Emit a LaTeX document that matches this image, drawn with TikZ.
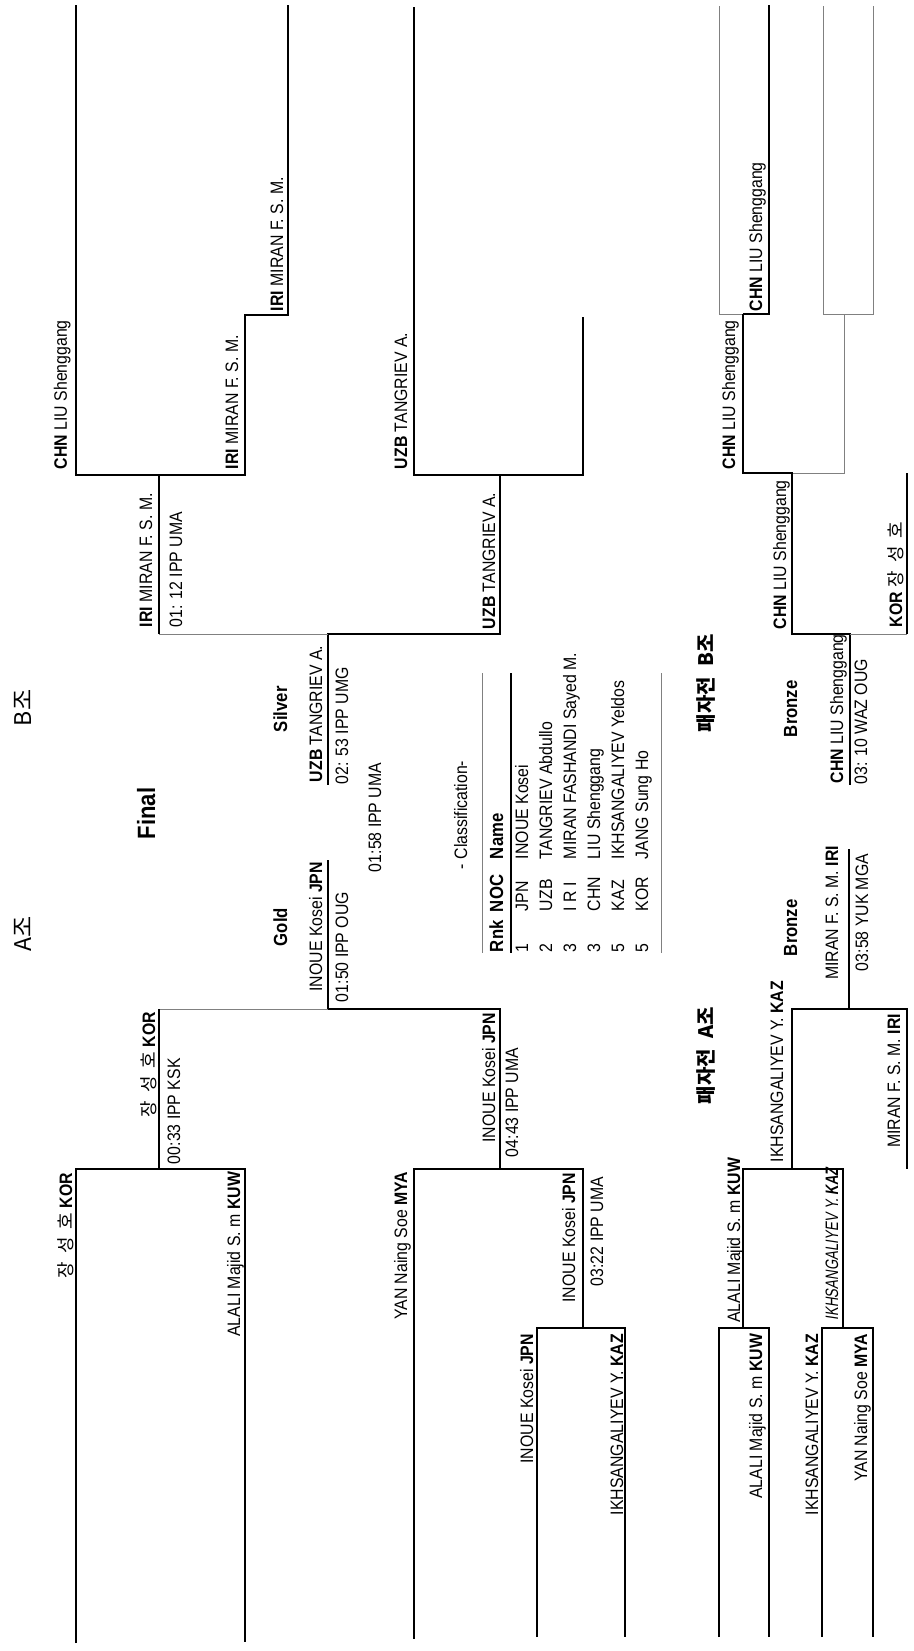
\documentclass[tikz,border=0pt]{standalone}
\usepackage{fontspec}
\setmainfont{Liberation Sans}[FakeStretch=0.88]
\newfontfamily\kr{Noto Sans CJK KR}
\newfontfamily\slnt{Liberation Sans}[FakeStretch=0.74,FakeSlant=0.15]
\newcommand\jang{{\kr 장\hspace{0.45em}성\hspace{0.45em}호}}
\usepackage{tikz}

\begin{document}
\begin{tikzpicture}[x=0.5pt,y=-0.5pt,line width=1pt,
    fine/.style={line width=0.5pt,gray},
    nm/.style={rotate=90,anchor=base west,inner sep=0pt,font=\fontsize{9}{11}\selectfont},
    nmr/.style={nm,anchor=base east},
    ttl/.style={nm,font=\fontsize{9.5}{11}\selectfont\bfseries},
    grp/.style={nm,font=\fontsize{11.5}{13}\selectfont}]
    \fill[white] (0,0) rectangle (914,1651);
    \useasboundingbox (0,0) rectangle (914,1651);
    % Pool B
    \draw (76,5) -- (76,475) -- (245,475) -- (245,315) -- (288,315) -- (288,5);
    \draw (159,475) -- (159,634);
    \draw (414,7) -- (414,475) -- (583,475) -- (583,317);
    \draw (500,475) -- (500,634) -- (328,634) -- (328,785);
    \draw[fine] (159,634) -- (328,634);
    \node[nm] (b1) at (67,470) {\textbf{CHN} LIU Shenggang};
    \node[nm] (b2) at (283,312) {\textbf{IRI} MIRAN F. S. M.};
    \node[nm] (b3) at (238,470) {\textbf{IRI} MIRAN F. S. M.};
    \node[nm] (b4) at (407,470) {\textbf{UZB} TANGRIEV A.};
    \node[nm] (b5) at (152,628) {\textbf{IRI} MIRAN F. S. M.};
    \node[nm] (b5s) at (182,628) {01: 12 IPP UMA};
    \node[nm] (b6) at (495,630) {\textbf{UZB} TANGRIEV A.};
    % Final
    \node[grp] (poolB) at (32,727) {\kr B조};
    \node[grp] (poolA) at (32,952) {\kr A조};
    \node[nm,font=\fontsize{12.5}{15}\selectfont\bfseries] (final) at (155,840) {Final};
    \node[ttl] (silver) at (287,733) {Silver};
    \node[nm] (b7) at (322,783) {\textbf{UZB} TANGRIEV A.};
    \node[nm] (b7s) at (348,785) {02: 53 IPP UMG};
    \node[nm] (fs) at (381,873) {01:58 IPP UMA};
    \node[ttl] (gold) at (287,947) {Gold};
    \node[nmr] (a8) at (322,861) {INOUE Kosei \textbf{JPN}};
    \node[nm] (a8s) at (348,1003) {01:50 IPP OUG};
    % Pool A
    \draw (328,860) -- (328,1009) -- (500,1009) -- (500,1169) -- (414,1169) -- (414,1639);
    \draw[fine] (159,1009) -- (328,1009);
    \draw (159,1009) -- (159,1169);
    \draw (76,1643) -- (76,1169) -- (245,1169) -- (245,1642);
    \draw (500,1169) -- (583,1169) -- (583,1328);
    \draw (537,1637) -- (537,1328) -- (625,1328) -- (625,1637);
    \node[nmr] (a9) at (155,1011) {\jang\ \textbf{KOR}};
    \node[nm] (a9s) at (180,1165) {00:33 IPP KSK};
    \node[nmr] (a10) at (72,1172) {\jang\ \textbf{KOR}};
    \node[nmr] (a11) at (240,1171) {ALALI Majid S. m \textbf{KUW}};
    \node[nmr] (a12) at (407,1171) {YAN Naing Soe \textbf{MYA}};
    \node[nmr] (a13) at (495,1012) {INOUE Kosei \textbf{JPN}};
    \node[nm] (a13s) at (518,1158) {04:43 IPP UMA};
    \node[nmr] (a14) at (575,1172) {INOUE Kosei \textbf{JPN}};
    \node[nm] (a14s) at (603,1287) {03:22 IPP UMA};
    \node[nmr] (a15) at (533,1333) {INOUE Kosei \textbf{JPN}};
    \node[nmr] (a16) at (623,1333) {IKHSANGALIYEV Y. \textbf{KAZ}};
    % Classification
    \node[nm] (cls) at (467,870) {- Classification-};
    \draw[fine] (482,673) -- (482,953);
    \draw[line width=0.6pt] (511,673) -- (511,953);
    \draw[fine] (661,673) -- (661,953);
    \node[ttl] (hrk) at (503,953) {Rnk};
    \node[ttl] (hnoc) at (503,913) {NOC};
    \node[ttl] (hnm) at (503,860) {Name};
    \foreach \x/\r/\c/\n [count=\i] in {528/1/JPN/INOUE Kosei, 552/2/UZB/TANGRIEV Abdullo,
        576/3/I R I/MIRAN FASHANDI Sayed M., 600/3/CHN/LIU Shenggang,
        624/5/KAZ/IKHSANGALIYEV Yeldos, 648/5/KOR/JANG Sung Ho} {
      \node[nm] (rk\i) at (\x,953) {\r};
      \node[nm] (noc\i) at (\x,912) {\c};
      \node[nm] (nam\i) at (\x,860) {\n};
    }
    % Repechage B
    \draw[fine] (719,6) -- (719,314) -- (743,314);
    \draw (743,314) -- (769,314) -- (769,5);
    \draw[fine] (823,6) -- (823,314) -- (873,314) -- (873,6);
    \draw[fine] (844,314) -- (844,473) -- (792,473);
    \draw (743,314) -- (743,473) -- (792,473) -- (792,634) -- (850,634) -- (850,785);
    \draw[fine] (850,634) -- (907,634);
    \draw (907,473) -- (907,634);
    \node[nm] (r1) at (762,312) {\textbf{CHN} LIU Shenggang};
    \node[nm] (r2) at (735,470) {\textbf{CHN} LIU Shenggang};
    \node[nm] (r3) at (786,630) {\textbf{CHN} LIU Shenggang};
    \node[nm] (r4) at (902,628) {\textbf{KOR} \jang};
    \node[grp,font=\fontsize{10}{12}\selectfont\bfseries] (repB) at (713,733) {\kr 패자전\hspace{0.5em}B조};
    \node[ttl] (bronzeB) at (797,738) {Bronze};
    \node[nm] (r5) at (843,784) {\textbf{CHN} LIU Shenggang};
    \node[nm] (r5s) at (867,785) {03: 10 WAZ OUG};
    % Repechage A
    \draw (849,849) -- (849,1009);
    \draw (792,1169) -- (792,1009) -- (907,1009) -- (907,1169);
    \draw (743,1328) -- (743,1169) -- (843,1169) -- (843,1328);
    \draw (719,1637) -- (719,1328) -- (769,1328) -- (769,1637);
    \draw (822,1637) -- (822,1328) -- (873,1328) -- (873,1637);
    \node[grp,font=\fontsize{10}{12}\selectfont\bfseries] (repA) at (713,1105) {\kr 패자전\hspace{0.5em}A조};
    \node[ttl] (bronzeA) at (797,957) {Bronze};
    \node[nmr] (r6) at (838,845) {MIRAN F. S. M. \textbf{IRI}};
    \node[nm] (r6s) at (868,972) {03:58 YUK MGA};
    \node[nmr] (r7) at (783,980) {IKHSANGALIYEV Y. \textbf{KAZ}};
    \node[nmr] (r8) at (900,1013) {MIRAN F. S. M. \textbf{IRI}};
    \node[nmr] (r9) at (740,1157) {ALALI Majid S. m \textbf{KUW}};
    \node[nmr] (r10) at (838,1167) {\slnt IKHSANGALIYEV Y. \textbf{KAZ}};
    \node[nmr] (r11) at (762,1333) {ALALI Majid S. m \textbf{KUW}};
    \node[nmr] (r12) at (818,1333) {IKHSANGALIYEV Y. \textbf{KAZ}};
    \node[nmr] (r13) at (867,1333) {YAN Naing Soe \textbf{MYA}};
  \end{tikzpicture}
\end{document}
